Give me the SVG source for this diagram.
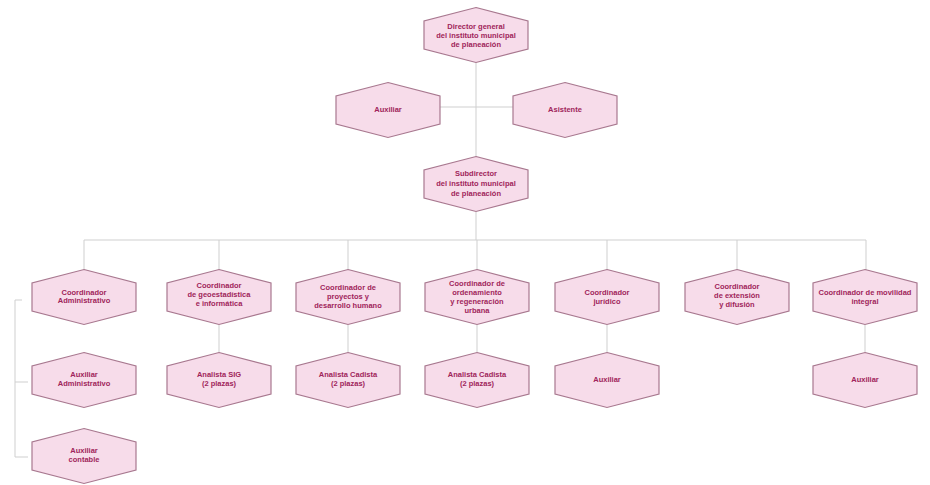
<svg xmlns="http://www.w3.org/2000/svg" width="930" height="485" viewBox="0 0 930 485">
<defs>
<style>
.hex{fill:#f7dcea;stroke:#a8788f;stroke-width:1.2}
.t{font-family:"Liberation Sans",Arial,sans-serif;font-weight:bold;font-size:7.5px;fill:#a0245a;text-anchor:middle}
.c{stroke:#cfcfcf;stroke-width:1;fill:none}
</style>
<polygon id="hx" points="0,-27.5 52,-14 52,14 0,27.5 -52,14 -52,-14"/>
</defs>
<rect width="930" height="485" fill="#ffffff"/>
<g id="connectors">
<path class="c" d="M476,62V157M440,107H513M476,212V240M84,240H866M84,240V270M219,240V270M348,240V270M477,240V270M607,240V270M737,240V270M866,240V270"/>
<path class="c" d="M219,325V352M348,325V352M477,325V352M607,325V352M865,325V352"/>
<path class="c" d="M15,300V457M15,300H22M15,382H28M15,457H28"/>
</g>
<g id="n-director"><use href="#hx" x="476" y="35" class="hex"/><text class="t" x="476" y="29">Director general</text><text class="t" x="476" y="38">del instituto municipal</text><text class="t" x="476" y="47">de planeación</text></g>
<g id="n-auxiliar"><use href="#hx" x="388" y="110" class="hex"/><text class="t" x="388" y="112">Auxiliar</text></g>
<g id="n-asistente"><use href="#hx" x="565" y="110" class="hex"/><text class="t" x="565" y="112">Asistente</text></g>
<g id="n-subdirector"><use href="#hx" x="476" y="184" class="hex"/><text class="t" x="476" y="176">Subdirector</text><text class="t" x="476" y="186">del instituto municipal</text><text class="t" x="476" y="196">de planeación</text></g>
<g id="n-coord-admin"><use href="#hx" x="84" y="297" class="hex"/><text class="t" x="84" y="295">Coordinador</text><text class="t" x="84" y="303">Administrativo</text></g>
<g id="n-coord-geo"><use href="#hx" x="219" y="297" class="hex"/><text class="t" x="219" y="288">Coordinador</text><text class="t" x="219" y="297">de geoestadística</text><text class="t" x="219" y="306">e informática</text></g>
<g id="n-coord-proy"><use href="#hx" x="348" y="297" class="hex"/><text class="t" x="348" y="290">Coordinador de</text><text class="t" x="348" y="299">proyectos y</text><text class="t" x="348" y="308">desarrollo humano</text></g>
<g id="n-coord-orden"><use href="#hx" x="477" y="297" class="hex"/><text class="t" x="477" y="286">Coordinador de</text><text class="t" x="477" y="295">ordenamiento</text><text class="t" x="477" y="304">y regeneración</text><text class="t" x="477" y="313">urbana</text></g>
<g id="n-coord-jur"><use href="#hx" x="607" y="297" class="hex"/><text class="t" x="607" y="295">Coordinador</text><text class="t" x="607" y="304">jurídico</text></g>
<g id="n-coord-ext"><use href="#hx" x="737" y="297" class="hex"/><text class="t" x="737" y="289">Coordinador</text><text class="t" x="737" y="298">de extensión</text><text class="t" x="737" y="307">y difusión</text></g>
<g id="n-coord-mov"><use href="#hx" x="865" y="297" class="hex"/><text class="t" x="865" y="295">Coordinador de movilidad</text><text class="t" x="865" y="304">integral</text></g>
<g id="n-aux-admin"><use href="#hx" x="84" y="380" class="hex"/><text class="t" x="84" y="377">Auxiliar</text><text class="t" x="84" y="386">Administrativo</text></g>
<g id="n-analista-sig"><use href="#hx" x="219" y="380" class="hex"/><text class="t" x="219" y="377">Analista SIG</text><text class="t" x="219" y="386">(2 plazas)</text></g>
<g id="n-analista-cad1"><use href="#hx" x="348" y="380" class="hex"/><text class="t" x="348" y="377">Analista Cadista</text><text class="t" x="348" y="386">(2 plazas)</text></g>
<g id="n-analista-cad2"><use href="#hx" x="477" y="380" class="hex"/><text class="t" x="477" y="377">Analista Cadista</text><text class="t" x="477" y="386">(2 plazas)</text></g>
<g id="n-aux-jur"><use href="#hx" x="607" y="380" class="hex"/><text class="t" x="607" y="382">Auxiliar</text></g>
<g id="n-aux-mov"><use href="#hx" x="865" y="380" class="hex"/><text class="t" x="865" y="382">Auxiliar</text></g>
<g id="n-aux-cont"><use href="#hx" x="84" y="456" class="hex"/><text class="t" x="84" y="453">Auxiliar</text><text class="t" x="84" y="462">contable</text></g>
</svg>
